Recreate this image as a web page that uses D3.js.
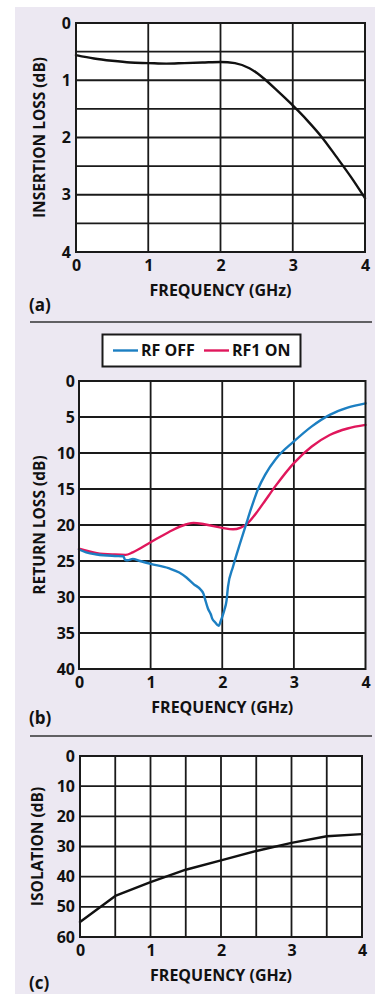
<!DOCTYPE html>
<html>
<head>
<meta charset="utf-8">
<script src="https://cdn.jsdelivr.net/npm/d3@7"></script>
<style>
  html, body { margin: 0; padding: 0; background: #fff; }
  svg { display: block; }
  text { font-family: "Open Sans", "DejaVu Sans", sans-serif; font-weight: 700; fill: #111; }
</style>
</head>
<body>
<svg id="chart"></svg>
<script>
// frequency ticks shared by all three panels
var freqTicks = [0, 1, 2, 3, 4];

// (a) insertion loss
var ilFreq = [0, 0.25, 0.5, 0.75, 1.0, 1.25, 1.5, 1.75, 2.0, 2.2, 2.4, 2.5, 2.6, 2.8, 3.0, 3.2, 3.4, 3.6, 3.8, 4.0];
var ilLoss = [0.56, 0.62, 0.66, 0.69, 0.70, 0.71, 0.70, 0.69, 0.68, 0.70, 0.79, 0.87, 0.97, 1.20, 1.44, 1.70, 1.99, 2.33, 2.68, 3.06];
var ilTicks = [0, 1, 2, 3, 4];
var ilGrid = [0.5, 1, 1.5, 2, 2.5, 3, 3.5];

// (b) return loss
var offFreq = [0, 0.1, 0.25, 0.5, 0.62, 0.64, 0.68, 0.75, 0.85, 1.0, 1.25, 1.4, 1.5, 1.6, 1.7, 1.74, 1.76, 1.8, 1.84, 1.86, 1.9, 1.95, 1.98, 2.03, 2.06, 2.08, 2.15, 2.25, 2.33, 2.4, 2.5, 2.6, 2.75, 3.0, 3.25, 3.5, 3.75, 4.0];
var rfOff = [23.4, 23.8, 24.1, 24.3, 24.35, 24.8, 24.9, 24.7, 25.0, 25.4, 26.0, 26.6, 27.3, 28.2, 29.0, 29.6, 30.3, 31.6, 32.4, 33.0, 33.5, 34.0, 33.3, 31.8, 30.5, 28.6, 25.8, 22.5, 20.0, 17.8, 15.0, 13.0, 10.8, 8.4, 6.3, 4.7, 3.7, 3.1];
var onFreq = [0, 0.25, 0.5, 0.65, 0.75, 1.0, 1.25, 1.5, 1.6, 1.75, 2.0, 2.15, 2.25, 2.35, 2.5, 2.6, 2.75, 3.0, 3.25, 3.5, 3.75, 4.0];
var rf1On = [23.3, 23.9, 24.1, 24.15, 23.8, 22.4, 21.0, 19.9, 19.7, 19.9, 20.4, 20.6, 20.4, 19.8, 18.0, 16.6, 14.5, 11.4, 9.1, 7.5, 6.6, 6.1];
var rlTicks = [0, 5, 10, 15, 20, 25, 30, 35, 40];
var legendNames = ["RF OFF", "RF1 ON"];

// (c) isolation
var isoFreq = [0, 0.5, 1.0, 1.5, 2.0, 2.5, 3.0, 3.5, 4.0];
var isolation = [55.0, 46.4, 41.8, 37.7, 34.6, 31.5, 28.8, 26.6, 25.9];
var isoTicks = [0, 10, 20, 30, 40, 50, 60];
var isoGridX = [0.5, 1, 1.5, 2, 2.5, 3, 3.5];

var W = 375, H = 994;
var svg = d3.select("#chart").attr("width", W).attr("height", H);

svg.append("rect").attr("x", 15).attr("y", 7).attr("width", W - 15).attr("height", H - 7)
  .attr("fill", "#ece8f2");

function panel(opt) {
  var g = svg.append("g").attr("transform", "translate(" + opt.left + "," + opt.top + ")");
  var w = opt.right - opt.left, h = opt.bottom - opt.top;
  var x = d3.scaleLinear().domain([0, 4]).range([0, w]);
  var y = d3.scaleLinear().domain(opt.yDomain).range([0, h]);

  g.append("rect").attr("width", w).attr("height", h).attr("fill", "#fff");

  // grid
  g.append("g").selectAll("line").data(opt.yGrid).enter().append("line")
    .attr("x1", 0).attr("x2", w).attr("y1", function (d) { return y(d); }).attr("y2", function (d) { return y(d); })
    .attr("stroke", "#1a1a1a").attr("stroke-width", 1.8);
  g.append("g").selectAll("line").data(opt.xGrid).enter().append("line")
    .attr("y1", 0).attr("y2", h).attr("x1", function (d) { return x(d); }).attr("x2", function (d) { return x(d); })
    .attr("stroke", "#1a1a1a").attr("stroke-width", 1.8);

  // axes (labels only, frame drawn separately)
  var ya = g.append("g").call(d3.axisLeft(y).tickValues(opt.yTicks).tickFormat(d3.format("d")).tickSize(0).tickPadding(opt.yPad));
  ya.select(".domain").remove();
  ya.selectAll("text").attr("font-size", 16).attr("fill", "#111");
  var xa = g.append("g").attr("transform", "translate(0," + h + ")")
    .call(d3.axisBottom(x).tickValues(freqTicks).tickFormat(d3.format("d")).tickSize(0).tickPadding(8));
  xa.select(".domain").remove();
  xa.selectAll("text").attr("font-size", 16).attr("fill", "#111");

  var line = d3.line().curve(opt.curve || d3.curveMonotoneX);
  opt.series.forEach(function (s) {
    g.append("path")
      .datum(d3.zip(s.fx, s.vals))
      .attr("fill", "none").attr("stroke", s.color).attr("stroke-width", 2.4)
      .attr("stroke-linejoin", "round").attr("stroke-linecap", "round")
      .attr("d", line.x(function (d) { return x(d[0]); }).y(function (d) { return y(d[1]); }));
  });

  g.append("rect").attr("width", w).attr("height", h).attr("fill", "none")
    .attr("stroke", "#1a1a1a").attr("stroke-width", 2);

  g.append("text").attr("x", w / 2).attr("y", h + 44).attr("text-anchor", "middle")
    .attr("font-size", 16).text("FREQUENCY (GHz)");
  g.append("text").attr("transform", "translate(" + (opt.yLabelX - opt.left) + "," + (h / 2) + ") rotate(-90)")
    .attr("text-anchor", "middle").attr("dy", "0.35em").attr("font-size", 15.5).text(opt.yLabel);
  svg.append("text").attr("x", 29).attr("y", opt.tag[1]).attr("font-size", 17).text(opt.tag[0]);
  return g;
}

panel({
  left: 76, right: 365, top: 23, bottom: 252, yDomain: [0, 4], yTicks: ilTicks, yGrid: ilGrid,
  xGrid: [1, 2, 3], yPad: 5, yLabel: "INSERTION LOSS (dB)", yLabelX: 40, tag: ["(a)", 311],
  series: [{ fx: ilFreq, vals: ilLoss, color: "#111" }]
});

svg.append("line").attr("x1", 30).attr("x2", 372).attr("y1", 322).attr("y2", 322)
  .attr("stroke", "#333").attr("stroke-width", 1.6);

panel({
  left: 79, right: 365.5, top: 381, bottom: 669, yDomain: [0, 40], yTicks: rlTicks, yGrid: [5, 10, 15, 20, 25, 30, 35],
  xGrid: [1, 2, 3], yPad: 4, yLabel: "RETURN LOSS (dB)", yLabelX: 40, tag: ["(b)", 724],
  series: [
    { fx: onFreq, vals: rf1On, color: "#e0175c" },
    { fx: offFreq, vals: rfOff, color: "#1c7fc2" }
  ]
});

// legend
var lg = svg.append("g");
lg.append("rect").attr("x", 102.5).attr("y", 334.5).attr("width", 198).attr("height", 32)
  .attr("fill", "#fff").attr("stroke", "#1a1a1a").attr("stroke-width", 2);
var legendColors = ["#1c7fc2", "#e0175c"];
var legendX = [113, 204];
legendNames.forEach(function (n, i) {
  lg.append("line").attr("x1", legendX[i]).attr("x2", legendX[i] + 25).attr("y1", 350.5).attr("y2", 350.5)
    .attr("stroke", legendColors[i]).attr("stroke-width", 2.4);
  lg.append("text").attr("x", legendX[i] + 28).attr("y", 350.5).attr("dy", "0.35em")
    .attr("font-size", 16).text(n);
});

svg.append("line").attr("x1", 30).attr("x2", 372).attr("y1", 736).attr("y2", 736)
  .attr("stroke", "#333").attr("stroke-width", 1.6);

panel({
  left: 80, right: 362, top: 756, bottom: 937, yDomain: [0, 60], yTicks: isoTicks, yGrid: [10, 20, 30, 40, 50],
  xGrid: isoGridX, yPad: 5, yLabel: "ISOLATION (dB)", yLabelX: 38, tag: ["(c)", 989], curve: d3.curveLinear,
  series: [{ fx: isoFreq, vals: isolation, color: "#111" }]
});
</script>
</body>
</html>
